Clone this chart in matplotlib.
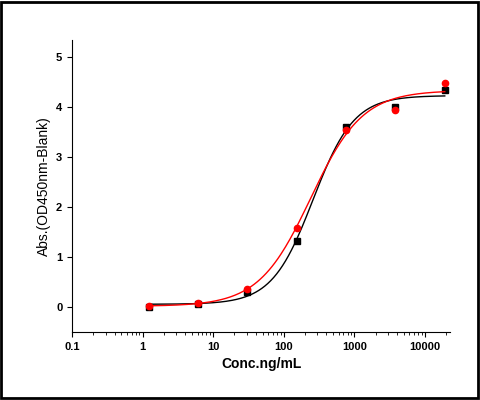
import numpy as np
import matplotlib
matplotlib.use('Agg')
import matplotlib.pyplot as plt
from matplotlib.patches import Rectangle
from scipy.optimize import curve_fit

conc = [1.22, 6.1, 30.5, 152.4, 762, 3810, 19050]
abs_black = [0.0, 0.07, 0.3, 1.32, 3.6, 4.0, 4.35]
abs_red = [0.02, 0.08, 0.37, 1.58, 3.55, 3.95, 4.48]

plt.rcParams['font.family'] = ['Liberation Sans', 'DejaVu Sans']

def four_pl(x, a, d, c, b):
    return d + (a - d) / (1 + (x / c) ** b)

fig = plt.figure(figsize=(4.8, 4.0), dpi=100)
ax = fig.add_axes([0.15, 0.17, 0.7875, 0.73])
fig.patches.append(Rectangle((0.003, 0.004), 0.992, 0.99, transform=fig.transFigure,
                             fill=False, edgecolor='black', linewidth=2))

xs = np.logspace(np.log10(conc[0]), np.log10(conc[-1]), 200)
for y, col, mk in [(abs_black, 'black', 's'), (abs_red, 'red', 'o')]:
    p, _ = curve_fit(four_pl, conc, y, p0=[0.05, 4.3, 300, 1.3], maxfev=20000)
    ax.plot(xs, four_pl(xs, *p), color=col, linewidth=1)
    ax.plot(conc, y, mk, color=col, markersize=4.5, linestyle='none')

ax.set_xscale('log')
ax.set_xlim(0.1, 22600)
ax.set_ylim(-0.5, 5.35)
ax.set_yticks([0, 1, 2, 3, 4, 5])
ax.set_xticks([0.1, 1, 10, 100, 1000, 10000])
ax.set_xticklabels(['0.1', '1', '10', '100', '1000', '10000'])
ax.spines['top'].set_visible(False)
ax.spines['right'].set_visible(False)
ax.tick_params(labelsize=8)
for lbl in ax.get_xticklabels() + ax.get_yticklabels():
    lbl.set_fontweight('bold')
ax.set_xlabel('Conc.ng/mL', fontsize=10, fontweight='bold')
ax.set_ylabel('Abs.(OD450nm-Blank)', fontsize=10)
fig.savefig('out.png', dpi=100)
